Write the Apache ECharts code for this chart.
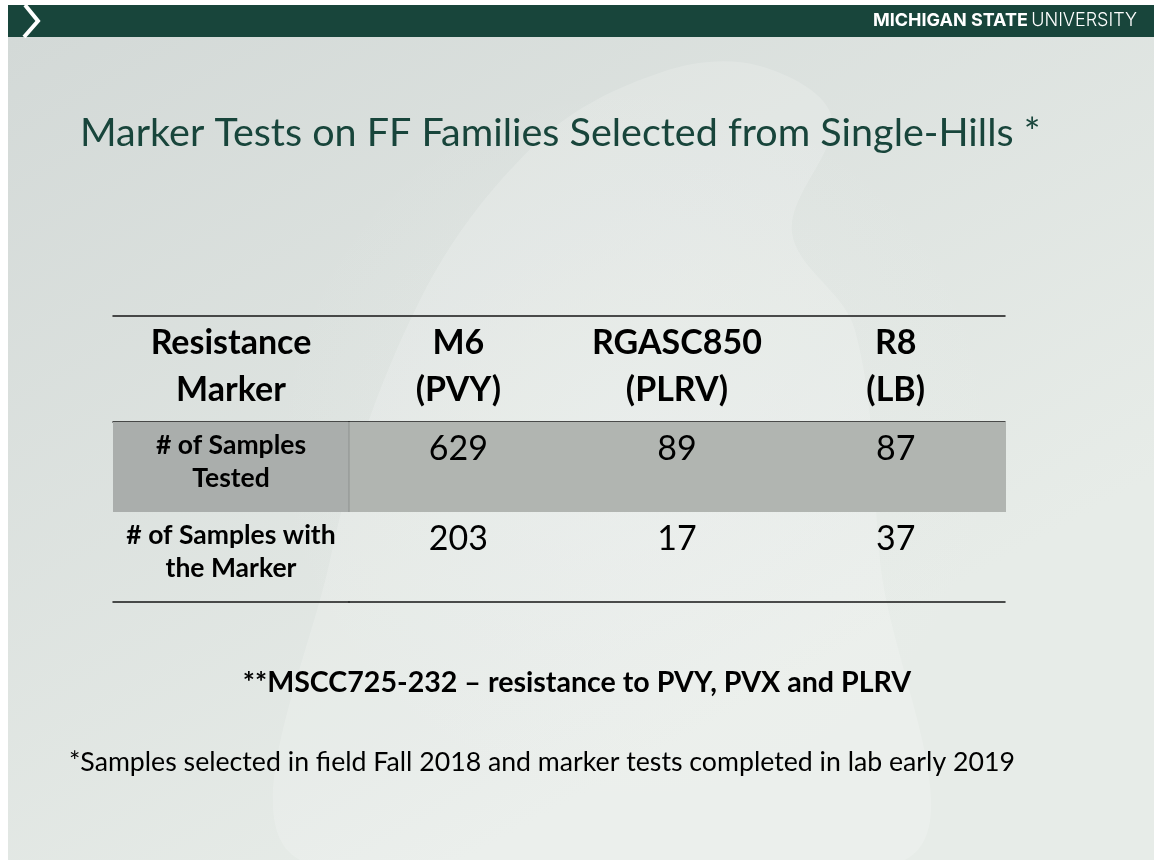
<!DOCTYPE html>
<html>
<head>
<meta charset="utf-8">
<title>Marker Tests on FF Families</title>
<script src="https://cdn.jsdelivr.net/npm/echarts@6/dist/echarts.min.js"></script>
<style>
  html, body { margin: 0; padding: 0; background: #fff; }
  #chart { width: 1154px; height: 860px; }
</style>
</head>
<body>
<div id="chart"></div>
<script>
// table contents
const firstHeader = ['Resistance\nMarker'];
const markers = ['M6\n(PVY)', 'RGASC850\n(PLRV)', 'R8\n(LB)'];
const rowNames = ['# of Samples\nTested', '# of Samples with\nthe Marker'];
const samplesTested = [629, 89, 87];
const samplesWithMarker = [203, 17, 37];

const titleText = 'Marker Tests on FF Families Selected from Single-Hills *';
const noteText = '**MSCC725-232 \u2013 resistance to PVY, PVX and PLRV';
const footText = '*Samples selected in field Fall 2018 and marker tests completed in lab early 2019';

const GREEN = '#18453b';
const FONT = 'Lato, "Open Sans", sans-serif';
const LINE = '#161616';

// cells: [column, row]
const labelCells = rowNames.map((n, r) => [0, r]);
const valueCells = [];
[samplesTested, samplesWithMarker].forEach((vals, r) => {
  vals.forEach((v, c) => valueCells.push([c, r, v]));
});

function cellRenderer(isLabel) {
  return function (params, api) {
    const col = api.value(0), row = api.value(1);
    const c = api.coord([col, row]);
    const s = api.size([1, 1]);
    const x0 = c[0] - s[0] / 2, y0 = c[1] - s[1] / 2;
    const children = [];
    if (row === 0) {
      // shaded row, overlap by 1px so no seams between cells
      children.push({
        type: 'rect',
        shape: { x: Math.floor(x0), y: y0, width: Math.ceil(s[0]) + 1, height: s[1] },
        style: { fill: isLabel ? '#aaaeac' : '#b1b5b1' }
      });
      if (isLabel) {
        children.push({
          type: 'line', z2: 5,
          shape: { x1: x0 + s[0], y1: y0, x2: x0 + s[0], y2: y0 + s[1] },
          style: { stroke: '#8d918f', lineWidth: 1 }
        });
      }
    }
    children.push({
      type: 'text', z2: 10,
      style: {
        text: isLabel ? rowNames[row] : String(api.value(2)),
        x: c[0],
        y: y0 + (isLabel ? 7 : 3),
        align: 'center', verticalAlign: 'top',
        textAlign: 'center', textVerticalAlign: 'top',
        fontFamily: FONT,
        fontSize: isLabel ? 26.5 : 34,
        fontWeight: isLabel ? 'bold' : 'normal',
        lineHeight: isLabel ? 33 : 48,
        fill: '#000'
      }
    });
    return { type: 'group', children: children };
  };
}

const headerLabel = {
  show: true, margin: 8, color: '#000', fontFamily: FONT,
  fontSize: 34, fontWeight: 'bold', lineHeight: 47, interval: 0
};
const axisLine = { show: true, lineStyle: { color: LINE, width: 1.5 } };

const chart = echarts.init(document.getElementById('chart'));
chart.setOption({
  animation: false,
  title: [
    { text: titleText, left: 80, top: 111, padding: 0,
      textStyle: { color: GREEN, fontFamily: FONT, fontSize: 39.5, fontWeight: 'normal', lineHeight: 44 } },
    { text: noteText, left: 'center', top: 665, padding: 0,
      textStyle: { color: '#000', fontFamily: FONT, fontSize: 28.6, fontWeight: 'bold', lineHeight: 36 } },
    { text: footText, left: 69, top: 746, padding: 0,
      textStyle: { color: '#000', fontFamily: FONT, fontSize: 26.7, fontWeight: 'normal', lineHeight: 32 } }
  ],
  graphic: [
    { type: 'rect', z: -10, silent: true, shape: { x: 8, y: 37, width: 1146, height: 823 },
      style: { fill: new echarts.graphic.LinearGradient(0, 0, 0.4, 1, [
        { offset: 0, color: '#d3d9d7' }, { offset: 1, color: '#e7ece8' }]) } },
    { type: 'rect', z: -9, silent: true, shape: { x: 8, y: 37, width: 1146, height: 823 },
      style: { fill: new echarts.graphic.RadialGradient(0.55, 0.5, 0.45, [
        { offset: 0, color: 'rgba(240,243,241,0.3)' }, { offset: 1, color: 'rgba(240,243,241,0)' }]) } },
    // faint helmet watermark
    { type: 'polygon', z: -8, silent: true,
      shape: { smooth: 0.35, points: [[300, 860], [330, 560], [420, 300], [540, 140], [662, 72],
        [760, 66], [832, 118], [792, 232], [855, 330], [880, 560], [905, 860]] },
      style: { fill: 'rgba(255,255,255,0.17)' } },
    { type: 'rect', silent: true, shape: { x: 8, y: 5, width: 1146, height: 32 }, style: { fill: GREEN } },
    { type: 'polyline', silent: true, shape: { points: [[25, 5], [38, 21], [24, 37]] },
      style: { stroke: '#fff', lineWidth: 4, fill: null } },
    { type: 'text', silent: true, x: 1137, y: 21,
      style: {
        text: '{b|MICHIGAN STATE} {r|UNIVERSITY}',
        align: 'right', verticalAlign: 'middle',
        rich: {
          b: { fill: '#fff', fontFamily: 'Inter, Roboto, sans-serif', fontSize: 18, fontWeight: 'bold' },
          r: { fill: '#fff', fontFamily: 'Inter, Roboto, sans-serif', fontSize: 18, fontWeight: 300 }
        }
      } }
  ],
  grid: [
    { left: 113, width: 236, top: 422, height: 180 },
    { left: 349, right: 149, top: 422, height: 180 },
    { left: 113, right: 149, top: 316, height: 106 }
  ],
  xAxis: [
    { gridIndex: 0, type: 'category', position: 'top', data: firstHeader,
      axisLine: axisLine, axisTick: { show: false }, axisLabel: headerLabel },
    { gridIndex: 1, type: 'category', position: 'top', data: markers,
      axisLine: axisLine, axisTick: { show: false }, axisLabel: headerLabel },
    { gridIndex: 0, type: 'category', position: 'bottom', data: firstHeader,
      axisLine: axisLine, axisTick: { show: false }, axisLabel: { show: false } },
    { gridIndex: 1, type: 'category', position: 'bottom', data: markers,
      axisLine: axisLine, axisTick: { show: false }, axisLabel: { show: false } },
    { gridIndex: 2, type: 'category', position: 'top', data: firstHeader.concat(markers),
      axisLine: axisLine, axisTick: { show: false }, axisLabel: { show: false } }
  ],
  yAxis: [
    { gridIndex: 0, type: 'category', inverse: true, data: rowNames, show: false },
    { gridIndex: 1, type: 'category', inverse: true, data: rowNames, show: false },
    { gridIndex: 2, type: 'category', data: ['header'], show: false }
  ],
  series: [
    { type: 'custom', xAxisIndex: 0, yAxisIndex: 0, data: labelCells,
      renderItem: cellRenderer(true), z: 1 },
    { type: 'custom', xAxisIndex: 1, yAxisIndex: 1, data: valueCells,
      renderItem: cellRenderer(false), z: 1 }
  ]
});
</script>
</body>
</html>
